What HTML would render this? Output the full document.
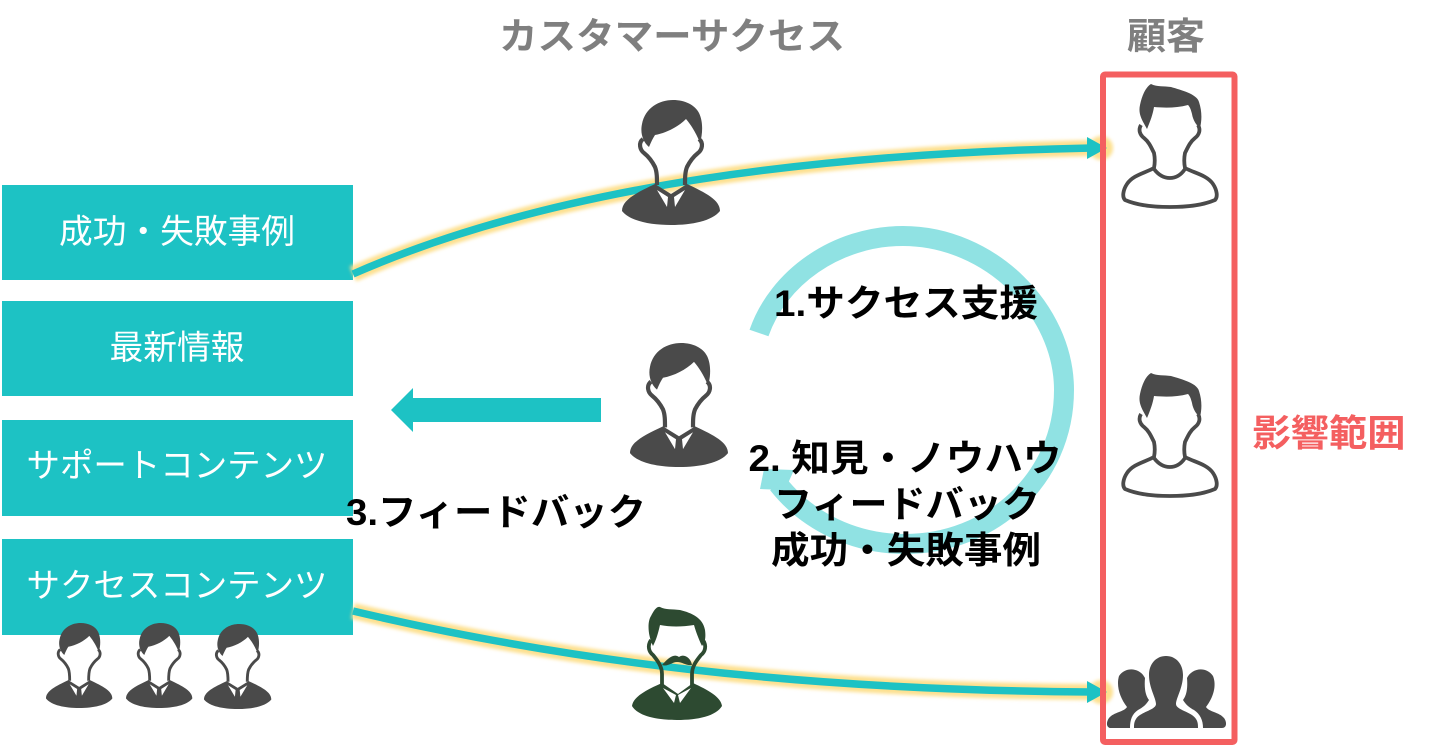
<!DOCTYPE html>
<html lang="ja"><head><meta charset="utf-8"><title>カスタマーサクセス</title>
<style>
html,body{margin:0;padding:0;background:#fff;width:1440px;height:751px;overflow:hidden}
svg{display:block}
text{font-family:"Liberation Sans","Noto Sans CJK JP",sans-serif}
.b{font-weight:700;fill:#000;font-size:37px;text-anchor:middle}
.w{fill:#fff;font-size:33.500px;text-anchor:middle}
.g{font-weight:700;fill:#7f7f7f;font-size:37px;text-anchor:middle}
</style></head><body>
<svg width="1440" height="751" viewBox="0 0 1440 751" xmlns="http://www.w3.org/2000/svg">
<defs>
<filter id="bl" x="-10%" y="-50%" width="120%" height="200%"><feGaussianBlur stdDeviation="1.800"/></filter>
<symbol id="biz" viewBox="0 0 99 125" overflow="visible" preserveAspectRatio="none">
 <path d="M27 47C21 42 18 33 20 24C23 8 37 0 51 0C63 0 73 5 77 13C81 21 81 33 78 43C75 35 70 26 64 19C56 27 44 33 33 35C31 38 29 42 27 47Z" fill="currentColor"/>
 <path d="M21 39C16 43 18 50 22 53C27 57 30 61 33 67C35 72 35 78 35 85M77 39C82 43 80 50 76 53C71 57 68 61 65 67C63 72 63 78 63 85" fill="none" stroke="currentColor" stroke-width="4.200"/>
 <path d="M0 111C0 100 14 93 33 84L49 94L65 84C84 93 98 100 98 111C90 121 70 125 49 125C28 125 8 121 0 111Z" fill="currentColor"/>
 <path d="M35 90L45 107L46 97ZM63 90L53 107L52 97Z" fill="#fff"/>
</symbol>
<symbol id="cus" viewBox="0 0 97 124" overflow="visible" preserveAspectRatio="none">
 <path d="M26 45C21 36 17 30 19 21C21 11 25 3 30 0C36 3 43 2 50 3C60 6 76 10 78 18C81 27 81 36 79 44C75 41 72 36 71 30C70 26 69 23 67 21C56 24 44 24 33 23C32 30 29 38 26 45Z" fill="#4a4a4a"/>
 <path d="M20 41C17 46 19 51 23 54C28 58 30 63 33 69C34 74 34 79 33 84C24 89 12 91 6 100C2 106 1 113 4 116C18 122 34 123 49 123C64 123 80 122 94 116C97 113 96 106 92 100C86 91 73 89 64 84C63 79 63 74 64 69C67 63 69 58 74 54C78 51 80 46 77 41M33 85C42 97 56 97 64 85" fill="none" stroke="#4a4a4a" stroke-width="3.800"/>
</symbol>
</defs>

<!-- boxes -->
<g fill="#1dc2c4">
<rect x="2" y="185" width="351" height="95"/>
<rect x="2" y="301" width="351" height="95"/>
<rect x="2" y="420" width="351" height="96"/>
<rect x="2" y="539" width="351" height="96"/>
</g>
<text class="w" x="177" y="243" textLength="236" lengthAdjust="spacingAndGlyphs">成功・失敗事例</text>
<text class="w" x="177" y="359" textLength="135" lengthAdjust="spacingAndGlyphs">最新情報</text>
<text class="w" x="177" y="477" textLength="301" lengthAdjust="spacingAndGlyphs">サポートコンテンツ</text>
<text class="w" x="177" y="597" textLength="301" lengthAdjust="spacingAndGlyphs">サクセスコンテンツ</text>

<!-- titles -->
<text class="g" x="672" y="49" textLength="346" lengthAdjust="spacingAndGlyphs">カスタマーサクセス</text>
<text class="g" x="1166" y="49" textLength="78" lengthAdjust="spacingAndGlyphs">顧客</text>

<!-- curved arrows glow -->
<g fill="none" stroke="#fde08f" stroke-width="16" filter="url(#bl)">
<path d="M353 274C560 183 830 153.500 1092 148"/>
<path d="M353 611C560 660 790 690 1092 692"/>
</g>
<circle cx="1101" cy="148" r="12" fill="#fde08f" filter="url(#bl)"/>
<circle cx="1101" cy="692" r="12" fill="#fde08f" filter="url(#bl)"/>
<g fill="none" stroke="#1dc2c4" stroke-width="7.500">
<path d="M353 274C560 183 830 153.500 1092 148"/>
<path d="M353 611C560 660 790 690 1092 692"/>
</g>
<g fill="#1dc2c4">
<polygon points="1087,137 1107,148 1087,159"/>
<polygon points="1087,681 1107,692 1087,703"/>
<polygon points="601,398 413,398 413,388 391,410 413,432 413,422 601,422"/>
</g>

<!-- cycle -->
<path d="M759 333C778 278 836 236 903 236C990 236 1064 310 1064 390C1064 480 990 544 905 544C855 544 808 522 778 484" fill="none" stroke="#90e2e3" stroke-width="20"/>
<polygon points="760,489 764,469 794,470 785,490" fill="#90e2e3"/>

<!-- red frame -->
<rect x="1103" y="74.500" width="131.500" height="667.500" rx="2" fill="none" stroke="#f45f60" stroke-width="6"/>

<!-- people -->
<g color="#4a4a4a">
<use href="#biz" x="622" y="100" width="99" height="125"/>
<use href="#biz" x="630" y="343" width="99" height="124"/>
<use href="#biz" x="46" y="623" width="67" height="85"/>
<use href="#biz" x="126" y="623" width="67" height="85"/>
<use href="#biz" x="204" y="624" width="68" height="85"/>
</g>
<use href="#cus" x="1121" y="84" width="97" height="124"/>
<use href="#cus" x="1121" y="373" width="97" height="124"/>

<!-- green person -->
<g fill="#2d4a31">
<path d="M653 646C648 636 647 622 651 616C654 610 657 606 660 607C666 610 672 609 680 610C692 613 703 618 705 630C706 638 705 642 702 646C699 640 696 632 694 625C682 627 670 627 660 625C658 634 656 640 653 646Z"/>
<path d="M662 665C668 658 674 653 679 657C684 653 691 658 692 665C686 666 683 662 677 662C672 662 668 667 662 665Z"/>
<path d="M632 706C633 697 646 690 662 683L678 694L693 683C708 690 721 697 722 706C716 716 698 720 677 720C656 720 638 716 632 706Z"/>
</g>
<path d="M651 640C647 646 649 652 653 655C657 660 662 666 662 674L662 686M703 640C707 646 705 652 701 655C697 660 692 666 692 674L692 686" fill="none" stroke="#2d4a31" stroke-width="3.800"/>
<path d="M663 688L674 703L676 695ZM691 688L680 703L678 695Z" fill="#fff"/>

<!-- group -->
<g fill="#4a4a4a">
<path d="M1119 676C1126 666 1140 668 1145 678C1144 690 1146 696 1149 700C1146 705 1142 708 1138 710C1132 714 1130 720 1130 728L1111 728C1106 728 1106 722 1109 718C1114 712 1124 712 1127 707C1120 698 1116 686 1119 676Z"/>
<path d="M1213 676C1206 666 1192 668 1187 678C1188 690 1186 696 1183 700C1186 705 1190 708 1194 710C1200 714 1203 720 1203 728L1222 728C1227 728 1227 722 1224 718C1219 712 1209 712 1206 707C1213 698 1217 686 1213 676Z"/>
<path d="M1149 675C1149 664 1156 656 1166 656C1176 656 1183 664 1183 675C1183 688 1176 698 1176 704C1176 710 1192 712 1196 719C1198 722 1198 725 1198 728L1134 728C1134 725 1134 722 1136 719C1140 712 1156 710 1156 704C1156 698 1149 688 1149 675Z"/>
</g>

<!-- labels -->
<text class="b" x="906" y="316" textLength="264" lengthAdjust="spacingAndGlyphs">1.サクセス支援</text>
<text class="b" x="905" y="471" textLength="313" lengthAdjust="spacingAndGlyphs">2. 知見・ノウハウ</text>
<text class="b" x="907" y="517" textLength="266" lengthAdjust="spacingAndGlyphs">フィードバック</text>
<text class="b" x="906" y="563" textLength="270" lengthAdjust="spacingAndGlyphs">成功・失敗事例</text>
<text class="b" x="496" y="525" textLength="300" lengthAdjust="spacingAndGlyphs">3.フィードバック</text>
<text x="1329" y="446" font-size="37" font-weight="700" fill="#f45f60" text-anchor="middle" textLength="153" lengthAdjust="spacingAndGlyphs">影響範囲</text>
</svg>
</body></html>
